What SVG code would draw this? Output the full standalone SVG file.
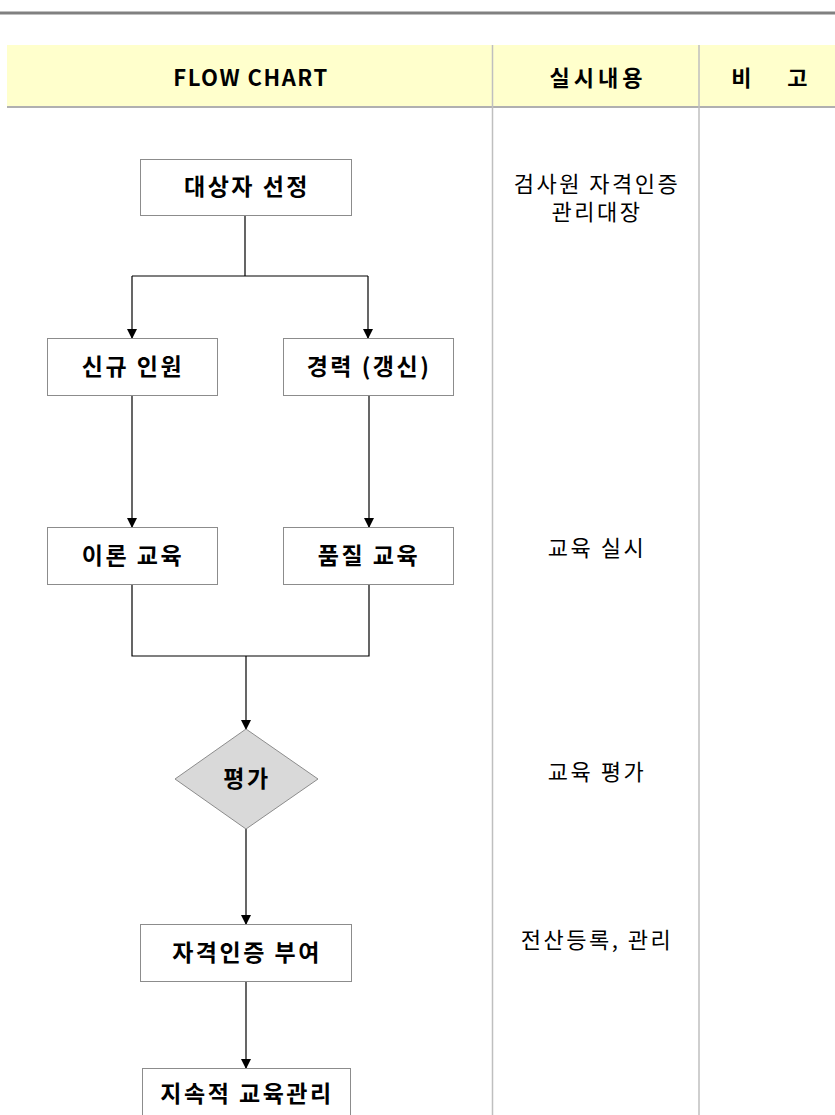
<svg xmlns="http://www.w3.org/2000/svg" width="835" height="1115" viewBox="0 0 835 1115">
<style>
.box{fill:#fff;stroke:#8c8c8c;stroke-width:1}
.dia{fill:#d9d9d9;stroke:#8c8c8c;stroke-width:1}
.nt{font-family:"Noto Sans CJK KR","Malgun Gothic",sans-serif;font-size:23px;font-weight:bold;fill:#000;text-anchor:middle;letter-spacing:2.5px}
.ht{font-family:"Noto Sans CJK KR",sans-serif;font-size:22px;font-weight:bold;fill:#000;text-anchor:middle;letter-spacing:1.5px}
.rt{font-family:"Noto Sans CJK KR",sans-serif;font-size:22px;fill:#000;text-anchor:middle;letter-spacing:2.5px}
.cn{fill:none;stroke:#000;stroke-width:1.2}
.grid{stroke:#bfbfbf;stroke-width:1.5}
</style>
<defs>
<marker id="ah" markerWidth="10" markerHeight="10" refX="9" refY="5" orient="auto" markerUnits="userSpaceOnUse">
<path d="M0,0 L10,5 L0,10 Z" fill="#000"/>
</marker>
</defs>
<rect width="835" height="1115" fill="#fff"/>
<g id="table">
<line x1="0" y1="13" x2="835" y2="13" stroke="#808080" stroke-width="3"/>
<rect x="7" y="45" width="828" height="62" fill="#ffffcc"/>
<line x1="7" y1="107" x2="835" y2="107" stroke="#b0b0b0" stroke-width="2"/>
<line class="grid" x1="492.5" y1="45" x2="492.5" y2="1115"/>
<line class="grid" x1="699" y1="45" x2="699" y2="1115"/>
<text class="ht" x="251" y="86">FLOW CHART</text>
<text class="ht" x="598" y="86" style="letter-spacing:4px">실시내용</text>
<text class="ht" x="742" y="86">비</text>
<text class="ht" x="798" y="86">고</text>
<text class="rt" x="597" y="192">검사원 자격인증</text>
<text class="rt" x="597" y="220">관리대장</text>
<text class="rt" x="597" y="556">교육 실시</text>
<text class="rt" x="597" y="780">교육 평가</text>
<text class="rt" x="597" y="948">전산등록, 관리</text>
</g>
<g id="connectors">
<path class="cn" d="M245,215 V276 M132,276 H368"/>
<path class="cn" d="M132,276 V338" marker-end="url(#ah)"/>
<path class="cn" d="M368,276 V338" marker-end="url(#ah)"/>
<path class="cn" d="M132,395 V527" marker-end="url(#ah)"/>
<path class="cn" d="M369,395 V527" marker-end="url(#ah)"/>
<path class="cn" d="M132,584 V656 H369 V584"/>
<path class="cn" d="M246,656 V729" marker-end="url(#ah)"/>
<path class="cn" d="M246,829 V924" marker-end="url(#ah)"/>
<path class="cn" d="M246,981 V1068" marker-end="url(#ah)"/>
</g>
<g id="n1"><rect class="box" x="140.5" y="159.5" width="211" height="56"/><text class="nt" x="247" y="195">대상자 선정</text></g>
<g id="n2"><rect class="box" x="47.5" y="338.5" width="170" height="57"/><text class="nt" x="133" y="375">신규 인원</text></g>
<g id="n3"><rect class="box" x="283.5" y="338.5" width="170" height="57"/><text class="nt" x="369" y="375">경력 (갱신)</text></g>
<g id="n4"><rect class="box" x="47.5" y="527.5" width="170" height="57"/><text class="nt" x="133" y="564">이론 교육</text></g>
<g id="n5"><rect class="box" x="283.5" y="527.5" width="170" height="57"/><text class="nt" x="369" y="564">품질 교육</text></g>
<g id="n6"><polygon class="dia" points="246,729 318,779 246,829 175,779"/><text class="nt" x="247" y="787">평가</text></g>
<g id="n7"><rect class="box" x="140.5" y="924.5" width="211" height="57"/><text class="nt" x="247" y="961">자격인증 부여</text></g>
<g id="n8"><rect class="box" x="142.5" y="1068.5" width="208" height="60"/><text class="nt" x="247" y="1102">지속적 교육관리</text></g>
</svg>
